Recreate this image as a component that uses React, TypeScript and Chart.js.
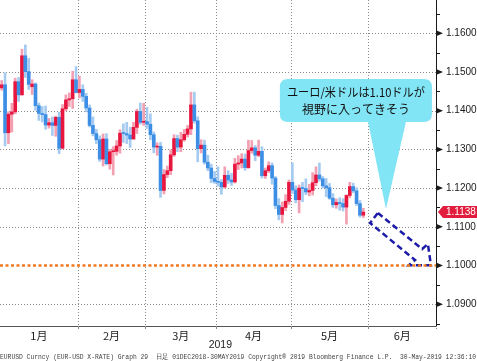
import React, { useEffect, useRef } from 'react';
import { Chart, registerables } from 'chart.js';
Chart.register(...registerables);

// EUR/USD daily candles, 2 Jan - 30 May 2019 (x = weekday index from 1 Jan 2019)
const openP = [
  // Jan
  1.1459, 1.1467, 1.1343, 1.1391, 1.1397, 1.1475, 1.1441, 1.1542, 1.1501, 1.1462, 1.1469, 1.1413, 1.1393, 1.139, 1.1363, 1.1369, 1.1362, 1.1383, 1.1303, 1.1405, 1.1428, 1.1431, 1.148,
  // Feb
  1.1447, 1.1455, 1.1437, 1.1407, 1.1362, 1.1341, 1.1325, 1.1275, 1.1327, 1.1263, 1.1294, 1.1295, 1.1309, 1.1342, 1.1341, 1.1337, 1.1327, 1.1357, 1.1398, 1.137,
  // Mar
  1.1372, 1.1365, 1.1338, 1.1306, 1.1308, 1.1194, 1.1235, 1.1245, 1.1286, 1.1328, 1.1306, 1.1325, 1.1339, 1.1353, 1.1415, 1.1374, 1.1302, 1.1311, 1.1267, 1.1252, 1.1225,
  // Apr
  1.1217, 1.1215, 1.1203, 1.1233, 1.1221, 1.1216, 1.1262, 1.1265, 1.1275, 1.1253, 1.1297, 1.1304, 1.1285, 1.1295, 1.1232, 1.1245, 1.1258, 1.1226, 1.1155, 1.1132, 1.115, 1.1166,
  // May
  1.1215, 1.1195, 1.117, 1.12, 1.1199, 1.119, 1.1194, 1.1214, 1.1234, 1.1224, 1.1206, 1.1201, 1.1174, 1.1157, 1.1163, 1.116, 1.1151, 1.1181, 1.1204, 1.1193, 1.116, 1.113,
];
const closeP = [
  1.1467, 1.1343, 1.1391, 1.1397, 1.1475, 1.1441, 1.1542, 1.1501, 1.1468, 1.1469, 1.1413, 1.1393, 1.139, 1.1363, 1.1369, 1.1362, 1.1383, 1.1303, 1.1405, 1.1428, 1.1431, 1.148, 1.1447,
  1.1455, 1.1437, 1.1407, 1.1362, 1.1341, 1.1325, 1.1275, 1.1327, 1.1263, 1.1294, 1.1295, 1.1309, 1.1342, 1.1341, 1.1337, 1.1327, 1.1357, 1.1398, 1.137, 1.1372,
  1.1365, 1.1338, 1.1306, 1.1308, 1.1194, 1.1235, 1.1245, 1.1286, 1.1328, 1.1306, 1.1325, 1.1339, 1.1353, 1.1415, 1.1374, 1.1302, 1.1311, 1.1267, 1.1252, 1.1225, 1.1217,
  1.1215, 1.1203, 1.1233, 1.1221, 1.1216, 1.1262, 1.1265, 1.1275, 1.1253, 1.1297, 1.1304, 1.1285, 1.1295, 1.1232, 1.1245, 1.1258, 1.1226, 1.1155, 1.1132, 1.115, 1.1166, 1.1215,
  1.1195, 1.117, 1.12, 1.1199, 1.119, 1.1194, 1.1214, 1.1234, 1.1224, 1.1206, 1.1201, 1.1174, 1.1157, 1.1163, 1.116, 1.1151, 1.1181, 1.1204, 1.1193, 1.116, 1.113, 1.1138,
];
const highP = [
  1.1478, 1.1498, 1.1397, 1.1419, 1.1484, 1.1486, 1.1559, 1.157, 1.1535, 1.148, 1.1472, 1.142, 1.1411, 1.1412, 1.138, 1.1384, 1.1386, 1.1396, 1.1416, 1.1441, 1.1446, 1.1502, 1.1514,
  1.1489, 1.1467, 1.1445, 1.1415, 1.1384, 1.1352, 1.1335, 1.134, 1.1341, 1.13, 1.1307, 1.1323, 1.1351, 1.1366, 1.137, 1.1357, 1.137, 1.1404, 1.142, 1.1419,
  1.1409, 1.1392, 1.1345, 1.1317, 1.1318, 1.1248, 1.1257, 1.1299, 1.1338, 1.1337, 1.1344, 1.1352, 1.1362, 1.1448, 1.1448, 1.1384, 1.1325, 1.1324, 1.1285, 1.1262, 1.1243,
  1.1255, 1.1222, 1.1255, 1.1245, 1.1238, 1.1277, 1.1284, 1.1289, 1.1288, 1.1324, 1.1323, 1.131, 1.1324, 1.1307, 1.1252, 1.1268, 1.1265, 1.123, 1.1173, 1.1164, 1.1183, 1.1221,
  1.1265, 1.1206, 1.1208, 1.1215, 1.1224, 1.121, 1.124, 1.1255, 1.1265, 1.123, 1.1225, 1.1212, 1.1186, 1.1172, 1.1175, 1.1173, 1.1183, 1.1215, 1.1213, 1.1201, 1.1168, 1.1148,
];
const lowP = [
  1.1453, 1.1309, 1.1315, 1.1345, 1.1392, 1.1424, 1.144, 1.1486, 1.1455, 1.1442, 1.1401, 1.1375, 1.1371, 1.1352, 1.1355, 1.1336, 1.1334, 1.1289, 1.1301, 1.14, 1.1411, 1.1406, 1.1446,
  1.1433, 1.1424, 1.1397, 1.1358, 1.1335, 1.1315, 1.1269, 1.1257, 1.126, 1.1249, 1.1234, 1.1285, 1.129, 1.1318, 1.1315, 1.1305, 1.1326, 1.1341, 1.1365, 1.1362,
  1.1354, 1.1325, 1.1291, 1.1285, 1.1176, 1.1185, 1.1227, 1.1235, 1.1282, 1.1294, 1.1294, 1.1321, 1.1332, 1.1338, 1.1368, 1.1268, 1.1291, 1.1262, 1.1245, 1.1214, 1.1212,
  1.1205, 1.1184, 1.12, 1.1212, 1.1207, 1.1213, 1.1248, 1.1252, 1.1246, 1.1251, 1.129, 1.1271, 1.1281, 1.1226, 1.1225, 1.124, 1.121, 1.1147, 1.1118, 1.111, 1.1142, 1.1158,
  1.1186, 1.1162, 1.1136, 1.1165, 1.1183, 1.118, 1.1182, 1.1206, 1.1218, 1.12, 1.1178, 1.1171, 1.115, 1.1148, 1.1143, 1.1141, 1.1107, 1.1175, 1.1188, 1.1155, 1.1125, 1.1124,
];

// Axes
const xMin = 0;
const xMax = 129; // weekdays Jan..Jun 2019
const monthBoundaries = [23, 43, 64, 86, 109];
const monthMids = [11.5, 33, 53.5, 75, 97.5, 119];
const monthLabels = ['1月', '2月', '3月', '4月', '5月', '6月'];
const yearLabel = '2019';
const yearAt = 64;
const yMin = 1.08437;
const yMax = 1.16861;
const yMajor = [1.09, 1.1, 1.11, 1.12, 1.13, 1.14, 1.15, 1.16];
const yMajorLabels = ['1.0900', '1.1000', '1.1100', '1.1200', '1.1300', '1.1400', '1.1500', '1.1600'];
const yMinor = [1.085, 1.095, 1.105, 1.115, 1.125, 1.135, 1.145, 1.155, 1.165];

// Annotations (data units)
const targetLevel = 1.1;
const lastPrice = 1.1138;
const lastPriceLabel = '1.1138';
const arrowX = [111.8, 124.9, 126.6, 127.5, 121.0, 122.8, 109.5, 111.8];
const arrowY = [1.11357, 1.10426, 1.10556, 1.1001, 1.1001, 1.10142, 1.11098, 1.11357];
const calloutBox = { x0: 82.8, x1: 127.8, y0: 1.14819, y1: 1.13708 };
const calloutTip = { xl: 108.9, xr: 120.1, x: 114.2, y: 1.1146 };
const calloutLines = ['ユーロ/米ドルは1.10ドルが', '視野に入ってきそう'];
const footerText =
  'EURUSD Curncy (EUR-USD X-RATE) Graph 29  日足 01DEC2018-30MAY2019 Copyright® 2019 Bloomberg Finance L.P.  30-May-2019 12:36:10';

const UP = '#e8163f';
const UP_L = '#f3a0b2';
const DN = '#3d8fe6';
const DN_L = '#a6cbf1';

const overlay = {
  id: 'overlay',
  beforeDatasetsDraw(chart: any) {
    const { ctx, chartArea: a, scales } = chart;
    const xs = scales.x, ys = scales.y;
    ctx.save();
    ctx.strokeStyle = '#8a8a8a';
    ctx.lineWidth = 1;
    ctx.setLineDash([1, 2]);
    yMajor.forEach((v) => {
      if (v === targetLevel) return;
      const y = Math.round(ys.getPixelForValue(v)) + 0.5;
      ctx.beginPath();
      ctx.moveTo(a.left, y);
      ctx.lineTo(a.right, y);
      ctx.stroke();
    });
    monthBoundaries.forEach((v) => {
      const x = Math.round(xs.getPixelForValue(v)) + 0.5;
      ctx.beginPath();
      ctx.moveTo(x, a.top);
      ctx.lineTo(x, a.bottom + 4);
      ctx.stroke();
    });
    ctx.restore();
  },
  afterDatasetsDraw(chart: any) {
    const { ctx, scales } = chart;
    const xs = scales.x, ys = scales.y;
    const x0 = xs.getPixelForValue(calloutBox.x0), x1 = xs.getPixelForValue(calloutBox.x1);
    const y0 = ys.getPixelForValue(calloutBox.y0), y1 = ys.getPixelForValue(calloutBox.y1);
    const r = 8;
    ctx.save();
    ctx.fillStyle = '#82e5f5';
    ctx.beginPath();
    ctx.moveTo(x0 + r, y0);
    ctx.lineTo(x1 - r, y0);
    ctx.quadraticCurveTo(x1, y0, x1, y0 + r);
    ctx.lineTo(x1, y1 - r);
    ctx.quadraticCurveTo(x1, y1, x1 - r, y1);
    ctx.lineTo(xs.getPixelForValue(calloutTip.xr), y1);
    ctx.lineTo(xs.getPixelForValue(calloutTip.x), ys.getPixelForValue(calloutTip.y));
    ctx.lineTo(xs.getPixelForValue(calloutTip.xl), y1);
    ctx.lineTo(x0 + r, y1);
    ctx.quadraticCurveTo(x0, y1, x0, y1 - r);
    ctx.lineTo(x0, y0 + r);
    ctx.quadraticCurveTo(x0, y0, x0 + r, y0);
    ctx.closePath();
    ctx.fill();
    ctx.fillStyle = '#111';
    ctx.font = '12px "Noto Sans CJK JP", sans-serif';
    ctx.textAlign = 'center';
    ctx.textBaseline = 'middle';
    const cx = (x0 + x1) / 2;
    ctx.fillText(calloutLines[0], cx, y0 + 13, 138);
    ctx.fillText(calloutLines[1], cx, y0 + 30, 138);
    ctx.restore();
  },
  afterDraw(chart: any) {
    const { ctx, chartArea: a, scales } = chart;
    const xs = scales.x, ys = scales.y;
    ctx.save();
    // y-axis markers
    ctx.fillStyle = '#1a1a1a';
    ctx.strokeStyle = '#1a1a1a';
    ctx.lineWidth = 1;
    yMajor.forEach((v) => {
      const y = ys.getPixelForValue(v);
      ctx.beginPath();
      ctx.moveTo(a.right, y - 3);
      ctx.lineTo(a.right + 7, y);
      ctx.lineTo(a.right, y + 3);
      ctx.closePath();
      ctx.fill();
    });
    yMinor.forEach((v) => {
      const y = Math.round(ys.getPixelForValue(v)) + 0.5;
      ctx.beginPath();
      ctx.moveTo(a.right, y);
      ctx.lineTo(a.right + 4, y);
      ctx.stroke();
    });
    // last-price tag
    const py = ys.getPixelForValue(lastPrice);
    ctx.fillStyle = '#e21c3c';
    ctx.beginPath();
    ctx.moveTo(a.right + 2, py);
    ctx.lineTo(a.right + 7, py - 6);
    ctx.lineTo(chart.width, py - 6);
    ctx.lineTo(chart.width, py + 6);
    ctx.lineTo(a.right + 7, py + 6);
    ctx.closePath();
    ctx.fill();
    ctx.fillStyle = '#ffffff';
    ctx.font = '10px "Liberation Sans", Arial, sans-serif';
    ctx.textAlign = 'left';
    ctx.textBaseline = 'middle';
    ctx.fillText(lastPriceLabel, a.right + 10, py + 0.5);
    // x ticks at month boundaries
    ctx.strokeStyle = '#888';
    ctx.setLineDash([1, 1]);
    [...monthBoundaries, xMax].forEach((v) => {
      const x = Math.round(xs.getPixelForValue(v)) + 0.5;
      ctx.beginPath();
      ctx.moveTo(x, a.bottom);
      ctx.lineTo(x, a.bottom + 4);
      ctx.stroke();
    });
    ctx.setLineDash([]);
    // year
    ctx.fillStyle = '#222';
    ctx.font = '10.5px "Liberation Sans", Arial, sans-serif';
    ctx.textAlign = 'center';
    ctx.fillText(yearLabel, xs.getPixelForValue(yearAt) + 4, a.bottom + 19);
    // footer
    ctx.fillStyle = '#444';
    ctx.font = '7px "Liberation Mono", monospace';
    ctx.textAlign = 'left';
    ctx.fillText(footerText, 0, a.bottom + 31, chart.width - 1);
    ctx.restore();
  },
};

export default function App() {
  const ref = useRef<HTMLCanvasElement>(null);
  useEffect(() => {
    document.body.style.margin = '0';
    const canvas = ref.current!;
    const idx = openP.map((_, i) => i + 0.5);
    const isUp = openP.map((o, i) => closeP[i] >= o);
    const chart = new Chart(canvas, {
      type: 'bar',
      data: {
        datasets: [
          {
            type: 'line',
            data: [{ x: xMin, y: targetLevel }, { x: xMax, y: targetLevel }],
            borderColor: '#f07a22',
            borderWidth: 2.5,
            borderDash: [3, 2.5],
            pointRadius: 0,
            order: 0,
          } as any,
          {
            type: 'line',
            data: arrowX.map((x, i) => ({ x, y: arrowY[i] })),
            borderColor: '#1c1ca8',
            borderWidth: 2.5,
            borderDash: [6, 3.5],
            borderJoinStyle: 'miter',
            pointRadius: 0,
            tension: 0,
            order: 0,
          } as any,
          {
            data: idx.map((x, i) => ({ x, y: [lowP[i], highP[i]] })),
            backgroundColor: isUp.map((u) => (u ? UP_L : DN_L)),
            barThickness: 2,
            grouped: false,
            borderWidth: 0,
            order: 2,
          } as any,
          {
            data: idx.map((x, i) => ({ x, y: [openP[i], closeP[i]] })),
            backgroundColor: isUp.map((u) => (u ? UP : DN)),
            barThickness: 3,
            minBarLength: 1,
            grouped: false,
            borderWidth: 0,
            order: 1,
          } as any,
        ],
      },
      options: {
        responsive: false,
        maintainAspectRatio: false,
        animation: false,
        devicePixelRatio: 1,
        layout: { padding: 0 },
        plugins: { legend: { display: false }, tooltip: { enabled: false } },
        scales: {
          x: {
            type: 'linear',
            position: 'bottom',
            min: xMin,
            max: xMax,
            offset: false,
            afterBuildTicks: (s: any) => {
              s.ticks = monthMids.map((v) => ({ value: v }));
            },
            afterFit: (s: any) => {
              s.height = 35;
              s.paddingLeft = 0;
              s.paddingRight = 0;
            },
            grid: { display: true, drawOnChartArea: false, drawTicks: true, tickLength: 3, color: 'rgba(0,0,0,0)', offset: false },
            border: { display: true, color: '#555', width: 1 },
            ticks: {
              autoSkip: false,
              maxRotation: 0,
              padding: 0,
              color: '#222',
              font: { family: '"Noto Sans CJK JP", sans-serif', size: 11 },
              callback: (v: any) => {
                const i = monthMids.findIndex((m) => Math.abs(m - v) < 1e-6);
                return i >= 0 ? monthLabels[i] : '';
              },
            },
          },
          y: {
            type: 'linear',
            position: 'right',
            min: yMin,
            max: yMax,
            afterBuildTicks: (s: any) => {
              s.ticks = yMajor.map((v) => ({ value: v }));
            },
            afterFit: (s: any) => {
              s.width = 41;
              s.paddingTop = 0;
              s.paddingBottom = 0;
            },
            grid: { display: true, drawOnChartArea: false, drawTicks: true, tickLength: 7, color: 'rgba(0,0,0,0)' },
            border: { display: true, color: '#1a1a1a', width: 1 },
            ticks: {
              autoSkip: false,
              padding: 3,
              color: '#1a1a1a',
              font: { family: '"Liberation Sans", Arial, sans-serif', size: 10 },
              callback: (v: any) => {
                const i = yMajor.findIndex((m) => Math.abs(m - v) < 1e-9);
                return i >= 0 ? yMajorLabels[i] : '';
              },
            },
          },
        },
      },
      plugins: [overlay],
    });
    return () => chart.destroy();
  }, []);
  return (
    <div style={{ width: 477, height: 361 }}>
      <canvas ref={ref} width={477} height={361} style={{ display: 'block' }} />
    </div>
  );
}
